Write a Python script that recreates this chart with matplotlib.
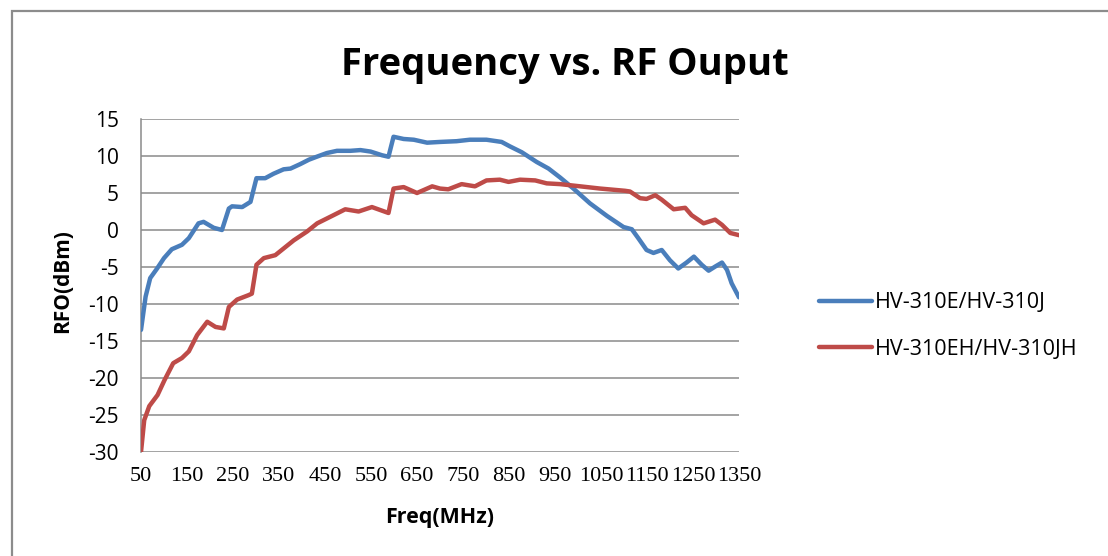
import matplotlib
matplotlib.use("Agg")
import matplotlib.pyplot as plt
from matplotlib.patches import Rectangle

# values
blue_label = "HV-310E/HV-310J"
blue_freq = [50, 60, 70, 85, 100, 117, 139, 154, 175, 186, 208, 226, 241, 248, 270, 288,
             301, 320, 338, 360, 375, 396, 415, 432, 454, 476, 505, 527, 549, 574, 588,
             599, 621, 643, 672, 700, 736, 765, 801, 834, 852, 878, 910, 936, 961, 990,
             1026, 1063, 1099, 1117, 1131, 1149, 1164, 1182, 1200, 1218, 1236, 1252,
             1269, 1284, 1298, 1313, 1324, 1334, 1350]
blue_rfo = [-13.5, -9, -6.5, -5.2, -3.8, -2.6, -2.0, -1.1, 0.9, 1.1, 0.3, 0, 2.9, 3.2, 3.1,
            3.8, 7.0, 7.0, 7.6, 8.2, 8.3, 8.9, 9.5, 9.9, 10.4, 10.7, 10.7, 10.8, 10.6, 10.1,
            9.9, 12.6, 12.3, 12.2, 11.8, 11.9, 12.0, 12.2, 12.2, 11.9, 11.3, 10.5, 9.2, 8.3,
            7.1, 5.6, 3.6, 1.9, 0.4, 0.1, -1.1, -2.7, -3.1, -2.7, -4.1, -5.2, -4.4, -3.6,
            -4.7, -5.5, -4.95, -4.4, -5.4, -7.2, -9.1]

red_label = "HV-310EH/HV-310JH"
red_freq = [50, 57, 68, 86, 101, 120, 139, 154, 172, 194, 212, 230, 241, 259, 284, 291,
            301, 317, 342, 360, 382, 411, 433, 462, 494, 523, 552, 570, 588, 599, 621, 650,
            683, 700, 718, 747, 776, 801, 830, 849, 874, 907, 932, 961, 1005, 1048, 1102,
            1113, 1135, 1149, 1168, 1182, 1208, 1233, 1247, 1273, 1298, 1313, 1331, 1350]
red_rfo = [-30, -25.7, -23.8, -22.3, -20.3, -18, -17.3, -16.4, -14.2, -12.4, -13.1, -13.3,
           -10.4, -9.4, -8.8, -8.6, -4.7, -3.8, -3.4, -2.5, -1.4, -0.2, 0.9, 1.8, 2.8, 2.5,
           3.1, 2.7, 2.3, 5.6, 5.8, 5.0, 5.9, 5.6, 5.5, 6.2, 5.9, 6.7, 6.8, 6.5, 6.8, 6.7,
           6.3, 6.2, 5.9, 5.6, 5.3, 5.2, 4.3, 4.2, 4.7, 4.1, 2.8, 3.0, 2.0, 0.9, 1.4, 0.7,
           -0.4, -0.7]

x_ticks = list(range(50, 1351, 100))
y_ticks = list(range(-30, 16, 5))

W, H = 1108, 556
fig = plt.figure(figsize=(W / 100, H / 100), dpi=100)
fig.patch.set_facecolor("white")

# chart frame (cut off at right/bottom like the screenshot)
fig.patches.append(Rectangle((12 / W, -0.05), 1.2, 1 - 11 / H + 0.05,
                             transform=fig.transFigure, fill=False,
                             edgecolor="#8c8c8c", linewidth=1.6))

ax = fig.add_axes([141 / W, 1 - 452 / H, (739 - 141) / W, (452 - 119) / H])

ax.plot(blue_freq, blue_rfo, color="#4a7ebb", lw=3.2, solid_joinstyle="round",
        solid_capstyle="round", label=blue_label, zorder=3)
ax.plot(red_freq, red_rfo, color="#be4b48", lw=3.2, solid_joinstyle="round",
        solid_capstyle="round", label=red_label, zorder=3)

ax.set_xlim(50, 1350)
ax.set_ylim(-30, 15)
ax.set_xticks(x_ticks)
ax.set_xticklabels([str(v) for v in x_ticks], family="Liberation Serif", fontsize=16)
ax.set_yticks(y_ticks)
ax.set_yticklabels([str(v) for v in y_ticks], family="Open Sans", fontsize=15)
ax.tick_params(length=0)
ax.tick_params(axis="x", pad=11)
ax.tick_params(axis="y", pad=16)

ax.grid(axis="y", color="#8a8a8a", lw=1.1)
ax.set_axisbelow(True)
for s in ["top", "right", "bottom"]:
    ax.spines[s].set_visible(False)
ax.spines["left"].set_color("#8a8a8a")
ax.spines["left"].set_linewidth(1.1)

# axis titles
fig.text(440 / W, 1 - 518 / H, "Freq(MHz)", family="Open Sans", fontweight="bold",
         fontsize=15.5, ha="center", va="center")
fig.text(63 / W, 1 - 281 / H, "RFO(dBm)", family="Open Sans", fontweight="bold",
         fontsize=15, ha="center", va="center", rotation=90)

fig.text(565 / W, 1 - 75 / H, "Frequency vs. RF Ouput", family="Open Sans",
         fontweight="bold", fontsize=27.5, ha="center", va="baseline")

fig.legend(loc="center left", bbox_to_anchor=(800 / W, 1 - 326 / H), frameon=False,
           prop={"family": "Open Sans", "size": 15.5}, handlelength=2.45,
           handletextpad=0.12, labelspacing=1.2)

fig.savefig("out.png", dpi=100)
